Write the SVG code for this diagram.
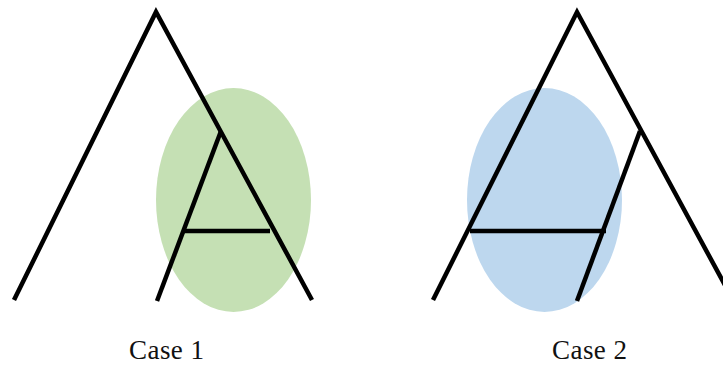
<svg xmlns="http://www.w3.org/2000/svg" width="723" height="367" viewBox="0 0 723 367">
<style>
.ln{stroke:#000;stroke-width:4.5;fill:none;stroke-linecap:butt}
.lbl{font-family:"Liberation Serif","DejaVu Serif",serif;font-size:27px;fill:#111;text-anchor:middle}
</style>
<rect width="723" height="367" fill="#fff"/>
<g id="case1">
<ellipse id="green" cx="233.5" cy="200" rx="77.5" ry="112" fill="#c5e0b4"/>
<g id="tree1">
<path class="ln" d="M14,300 L156,12 L312,300"/>
<path class="ln" d="M157,301 L221,131"/>
<path class="ln" d="M183,231 L270,231"/>
</g>
<text class="lbl" x="166.5" y="359" textLength="75">Case 1</text>
</g>
<g id="case2">
<ellipse id="blue" cx="544.5" cy="200" rx="77.5" ry="112" fill="#bdd7ee"/>
<g id="tree2">
<path class="ln" d="M433,300 L577,12 L733,300"/>
<path class="ln" d="M577,301 L640,131"/>
<path class="ln" d="M470,231 L606,231"/>
</g>
<text class="lbl" x="589.5" y="359" textLength="75">Case 2</text>
</g>
</svg>
